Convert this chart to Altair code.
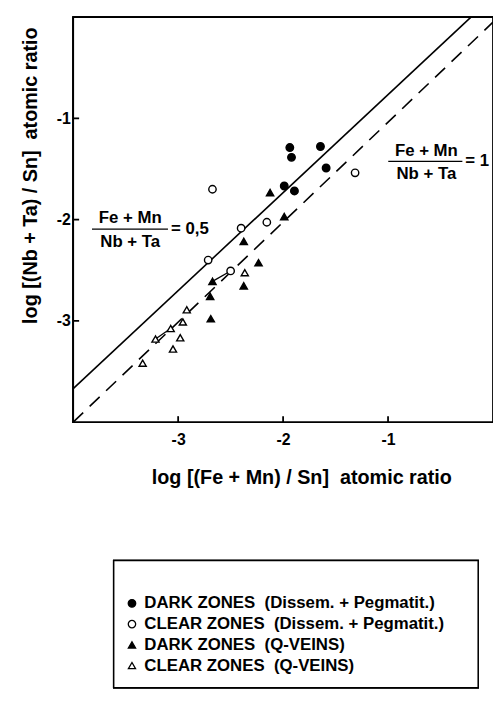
import altair as alt
import pandas as pd

FONT = "Liberation Sans"

# ---- data ----
groups = [
    "DARK ZONES\u00a0 (Dissem. + Pegmatit.)",
    "CLEAR ZONES\u00a0 (Dissem. + Pegmatit.)",
    "DARK ZONES\u00a0 (Q-VEINS)",
    "CLEAR ZONES\u00a0 (Q-VEINS)",
]
x_dark_peg = [-1.936, -1.920, -1.644, -1.590, -1.989, -1.892]
y_dark_peg = [-1.288, -1.385, -1.278, -1.490, -1.668, -1.717]
x_clear_peg = [-2.673, -1.314, -2.400, -2.155, -2.714, -2.500]
y_clear_peg = [-1.700, -1.538, -2.085, -2.026, -2.400, -2.507]
x_dark_q = [-2.124, -1.989, -2.375, -2.234, -2.673, -2.375, -2.695, -2.689]
y_dark_q = [-1.733, -1.970, -2.215, -2.426, -2.610, -2.654, -2.758, -2.979]
x_clear_q = [-2.365, -2.918, -2.955, -3.071, -3.216, -2.980, -3.049, -3.338]
y_clear_q = [-2.524, -2.891, -3.011, -3.076, -3.180, -3.167, -3.278, -3.418]

# tie lines between paired analyses
tie_pair = [1, 1, 2, 2]
tie_x = [-3.216, -3.071, -2.673, -2.500]
tie_y = [-3.180, -3.076, -2.610, -2.507]

# reference lines (Fe+Mn)/(Nb+Ta) = 0,5 (solid) and = 1 (dashed)
solid_x = [-4.0, -0.21]
solid_y = [-3.67, 0.0]
dash_x = [-4.0, 0.0]
dash_y = [-4.0, -0.05]

tick_vals = [-3, -2, -1]

# annotations
frac_center_text = ["Fe + Mn", "Nb + Ta", "Fe + Mn", "Nb + Ta"]
frac_center_x = [-3.457, -3.457, -0.635, -0.635]
frac_center_y = [-1.987, -2.221, -1.327, -1.551]
frac_bar_x = [-3.821, -0.998]
frac_bar_x2 = [-3.097, -0.292]
frac_bar_y = [-2.094, -1.424]
frac_eq_text = ["= 0,5", "= 1"]
frac_eq_x = [-3.068, -0.264]
frac_eq_y = [-2.094, -1.424]

# ---- tables ----
rows = []
for g, xs, ys in [
    (groups[0], x_dark_peg, y_dark_peg),
    (groups[1], x_clear_peg, y_clear_peg),
    (groups[2], x_dark_q, y_dark_q),
    (groups[3], x_clear_q, y_clear_q),
]:
    for a, b in zip(xs, ys):
        rows.append({"x": a, "y": b, "group": g})
pts = pd.DataFrame(rows)
ties = pd.DataFrame({"x": tie_x, "y": tie_y, "pair": tie_pair})
solid = pd.DataFrame({"x": solid_x, "y": solid_y})
dashed = pd.DataFrame({"x": dash_x, "y": dash_y})
ticks = pd.DataFrame({"v": tick_vals})
ctext = pd.DataFrame({"t": frac_center_text, "x": frac_center_x, "y": frac_center_y})
bars = pd.DataFrame({"x": frac_bar_x, "x2": frac_bar_x2, "y": frac_bar_y})
etext = pd.DataFrame({"t": frac_eq_text, "x": frac_eq_x, "y": frac_eq_y})

W, H = 425, 410
xscale = alt.Scale(domain=[-4, 0], nice=False, zero=False)
yscale = alt.Scale(domain=[-4, 0], nice=False, zero=False)

label_expr = "datum.value < 0 ? '-' + format(-datum.value, 'd') : format(datum.value, 'd')"

x_axis = alt.Axis(
    values=tick_vals, labelExpr=label_expr, ticks=False, tickSize=0, domain=False, grid=False,
    labelFont=FONT, labelFontSize=16, labelFontWeight="bold", labelColor="black", labelPadding=10,
    title="log [(Fe + Mn) / Sn]\u00a0 atomic ratio", titleFont=FONT, titleFontSize=20,
    titleFontWeight="bold", titleColor="black", titleX=231, titleY=56,
    titleAlign="center", titleBaseline="middle",
)
y_axis = alt.Axis(
    values=tick_vals, labelExpr=label_expr, ticks=False, tickSize=0, domain=False, grid=False,
    labelFont=FONT, labelFontSize=16, labelFontWeight="bold", labelColor="black", labelPadding=3,
    title="log [(Nb + Ta) / Sn]\u00a0 atomic ratio", titleFont=FONT, titleFontSize=20,
    titleFontWeight="bold", titleColor="black", titleX=-43, titleY=160, titleAngle=270,
    titleAlign="center", titleBaseline="middle",
)

X = alt.X("x:Q", scale=xscale, axis=x_axis)
Y = alt.Y("y:Q", scale=yscale, axis=y_axis)

frame_layer = alt.Chart(ticks).mark_rect(fill="white", stroke="black", strokeWidth=1.8).encode(
    x=alt.value(0), x2=alt.value(W), y=alt.value(0), y2=alt.value(H)
)
solid_layer = alt.Chart(solid).mark_line(color="black", strokeWidth=1.6).encode(x=X, y=Y)
dash_layer = alt.Chart(dashed).mark_line(color="black", strokeWidth=1.6, strokeDash=[14, 9]).encode(x=X, y=Y)
tie_layer = alt.Chart(ties).mark_line(color="black", strokeWidth=1.3).encode(x=X, y=Y, detail="pair:N")

ytick_layer = alt.Chart(ticks).mark_rule(color="black", strokeWidth=1.8).encode(
    y=alt.Y("v:Q", scale=yscale, axis=y_axis), x=alt.value(0), x2=alt.value(6)
)
xtick_layer = alt.Chart(ticks).mark_rule(color="black", strokeWidth=1.8).encode(
    x=alt.X("v:Q", scale=xscale, axis=x_axis), y=alt.value(H), y2=alt.value(H - 6)
)

def leg():
    return alt.Legend(
        orient="none", legendX=51, legendY=585, title=None, padding=0,
        labelFont=FONT, labelFontSize=17, labelFontWeight="bold", labelColor="black",
        symbolStrokeWidth=1.3, rowPadding=3, labelOffset=4, labelLimit=400,
    )

point_layer = alt.Chart(pts).mark_point(filled=True, strokeWidth=1.4, opacity=1).encode(
    x=X, y=Y,
    shape=alt.Shape("group:N", scale=alt.Scale(domain=groups, range=["circle", "circle", "triangle-up", "triangle-up"]), legend=leg()),
    fill=alt.Fill("group:N", scale=alt.Scale(domain=groups, range=["black", "white", "black", "white"]), legend=leg()),
    stroke=alt.Stroke("group:N", scale=alt.Scale(domain=groups, range=["black", "black", "black", "black"]), legend=leg()),
    size=alt.Size("group:N", scale=alt.Scale(domain=groups, range=[58, 52, 80, 72]), legend=leg()),
)

ctext_layer = alt.Chart(ctext).mark_text(font=FONT, fontSize=17, fontWeight="bold", color="black", align="center", baseline="middle").encode(
    x=X, y=Y, text="t:N"
)
bar_layer = alt.Chart(bars).mark_rule(color="black", strokeWidth=1.3).encode(x=X, x2="x2:Q", y=Y)
etext_layer = alt.Chart(etext).mark_text(font=FONT, fontSize=17, fontWeight="bold", color="black", align="left", baseline="middle").encode(
    x=X, y=Y, text="t:N"
)

box_layer = alt.Chart(ticks).mark_rect(fill="white", stroke="black", strokeWidth=1.5).encode(
    x=alt.value(41), x2=alt.value(410), y=alt.value(550), y2=alt.value(679)
)

chart = alt.layer(
    frame_layer, box_layer, solid_layer, dash_layer, tie_layer, ytick_layer, xtick_layer,
    bar_layer, ctext_layer, etext_layer, point_layer,
).properties(
    width=W, height=H,
    background="white",
    autosize=alt.AutoSizeParams(type="none"),
    padding={"left": 66, "top": 5, "right": 0, "bottom": 269},
).configure_view(
    stroke=None
)

chart.save("out.html", embed_options={"renderer": "svg", "actions": False})
